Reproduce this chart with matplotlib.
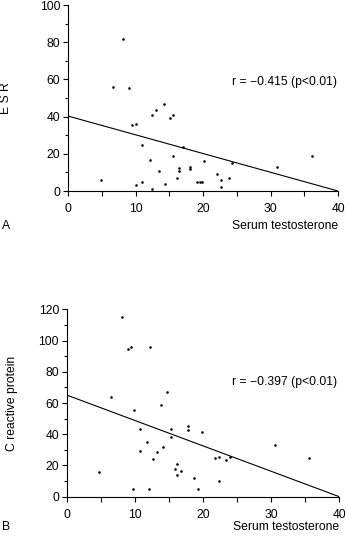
import matplotlib
matplotlib.use("Agg")
import matplotlib.pyplot as plt
from matplotlib.ticker import MultipleLocator

plt.rcParams['font.family'] = ['Liberation Sans', 'DejaVu Sans']

# Panel A: ESR vs serum testosterone
esr_x = [4.95, 6.7, 8.2, 9.06, 9.55, 10.1, 10.05, 11.0, 10.9, 12.1, 12.4, 12.5,
         13.0, 13.5, 14.2, 14.4, 15.05, 15.6, 15.6, 16.1, 16.5, 16.5, 17.1, 18.1,
         18.1, 19.1, 19.5, 19.9, 20.2, 22.1, 22.7, 22.7, 23.8, 24.3, 31.0, 36.1]
esr_y = [5.7, 56.1, 81.9, 55.6, 35.3, 36.0, 3.0, 24.9, 5.0, 16.8, 1.1, 40.7,
         43.4, 10.9, 46.6, 3.8, 39.4, 40.7, 18.8, 7.2, 12.5, 10.9, 23.8, 12.7,
         11.6, 5.0, 5.0, 5.0, 16.1, 9.1, 5.7, 2.0, 7.2, 15.2, 13.1, 18.6]
esr_fit_x = [0, 40]
esr_fit_y = [40.3, 0]
esr_r_text = "r = \u22120.415 (p<0.01)"

# Panel B: C reactive protein vs serum testosterone
crp_x = [8.07, 8.95, 9.44, 12.27, 14.77, 6.45, 9.83, 13.84, 10.76, 11.83, 10.76, 12.71,
         13.25, 14.18, 15.3, 15.3, 15.84, 16.19, 16.19, 16.72, 17.85, 17.85, 19.9, 18.73,
         19.2, 4.69, 9.78, 12.13, 21.76, 22.35, 22.3, 23.4, 24.0, 30.56, 35.55]
crp_y = [115.3, 94.4, 95.7, 95.7, 66.8, 63.6, 55.5, 58.9, 43.1, 34.8, 29.3, 23.9,
         28.4, 31.6, 43.6, 38.0, 17.5, 20.7, 13.9, 16.2, 45.3, 42.9, 41.2, 11.7,
         4.9, 16.0, 4.7, 4.7, 24.8, 25.6, 10.2, 23.3, 25.6, 32.9, 24.8]
crp_fit_x = [0, 40]
crp_fit_y = [65.1, 0]
crp_r_text = "r = \u22120.397 (p<0.01)"

W, H = 349, 536
fig = plt.figure(figsize=(W / 100, H / 100), dpi=100)
FS = 8.7


def px_axes(l, r, t, b):
    return fig.add_axes([l / W, 1 - b / H, (r - l) / W, (b - t) / H])


def style(ax, ymax, ymajor):
    ax.set_xlim(0, 40)
    ax.set_ylim(0, ymax)
    for s in ('top', 'right'):
        ax.spines[s].set_visible(False)
    for s in ('left', 'bottom'):
        ax.spines[s].set_linewidth(0.8)
    ax.xaxis.set_major_locator(MultipleLocator(10))
    ax.xaxis.set_minor_locator(MultipleLocator(5))
    ax.yaxis.set_major_locator(MultipleLocator(ymajor))
    ax.yaxis.set_minor_locator(MultipleLocator(ymajor / 2))
    ax.tick_params(which='both', direction='out', width=0.8, labelsize=FS)
    ax.tick_params(axis='x', which='both', pad=5)
    ax.tick_params(axis='y', which='both', pad=2)
    ax.tick_params(which='major', length=3.5)
    ax.tick_params(axis='x', which='minor', length=3.5)
    ax.tick_params(axis='y', which='minor', length=2)


# Panel A
axA = px_axes(68, 338, 5, 191)
style(axA, 100, 20)
axA.scatter(esr_x, esr_y, s=3.5, color='black', linewidths=0, clip_on=False)
axA.plot(esr_fit_x, esr_fit_y, color='black', lw=0.8)
axA.text(32.1, 58.6, esr_r_text, ha='center', va='center', fontsize=FS)
fig.text(6 / W, 1 - 98 / H, "E S R", rotation=90, ha='center', va='center', fontsize=FS)
fig.text(338 / W, 1 - 226 / H, "Serum testosterone", ha='right', va='center', fontsize=FS)
fig.text(2 / W, 1 - 226 / H, "A", ha='left', va='center', fontsize=FS)

# Panel B
axB = px_axes(66.7, 339.3, 309.3, 496.7)
style(axB, 120, 20)
axB.scatter(crp_x, crp_y, s=3.5, color='black', linewidths=0, clip_on=False)
axB.plot(crp_fit_x, crp_fit_y, color='black', lw=0.8)
axB.text(32.0, 73.5, crp_r_text, ha='center', va='center', fontsize=FS)
fig.text(12 / W, 1 - 403 / H, "C reactive protein", rotation=90, ha='center', va='center', fontsize=FS)
fig.text(339 / W, 1 - 527 / H, "Serum testosterone", ha='right', va='center', fontsize=FS)
fig.text(2 / W, 1 - 527 / H, "B", ha='left', va='center', fontsize=FS)

fig.savefig("out.png", dpi=100)
